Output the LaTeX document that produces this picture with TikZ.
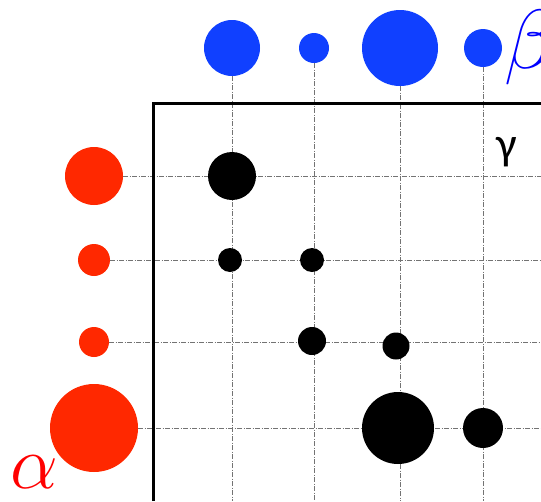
\documentclass[tikz,border=0pt]{standalone}
\usepackage{fix-cm}
\usepackage{fontspec}
\newfontfamily\gammafont{Carlito}
\definecolor{betablue}{RGB}{16,64,255}
\definecolor{alphared}{RGB}{255,40,0}

\begin{document}
\begin{tikzpicture}[x=1pt,y=-1pt,
  gridline/.style={black!55, line width=0.8pt, dash pattern=on 5pt off 1.5pt on 1pt off 1.5pt},
  bdot/.style={circle, fill=betablue, inner sep=0pt, minimum size=#1},
  rdot/.style={circle, fill=alphared, inner sep=0pt, minimum size=#1},
  kdot/.style={circle, fill=black, inner sep=0pt, minimum size=#1}]
\useasboundingbox (0,0) rectangle (541,501);
% line ends
\coordinate (v1) at (232,501);
\coordinate (v2) at (314,501);
\coordinate (v3) at (400,501);
\coordinate (v4) at (483,501);
\coordinate (h1) at (541,176);
\coordinate (h2) at (541,260);
\coordinate (h3) at (541,342);
\coordinate (h4) at (541,428);
% beta marginals
\node[bdot=56pt] (b1) at (232,48) {};
\node[bdot=30pt] (b2) at (314,48) {};
\node[bdot=76pt] (b3) at (400,48) {};
\node[bdot=38pt] (b4) at (483,48) {};
% alpha marginals
\node[rdot=58pt] (a1) at (94,176) {};
\node[rdot=32pt] (a2) at (94,260) {};
\node[rdot=30pt] (a3) at (94,342) {};
\node[rdot=88pt] (a4) at (94,428) {};
% grid
\draw[gridline] (b1) -- (v1);
\draw[gridline] (b2) -- (v2);
\draw[gridline] (b3) -- (v3);
\draw[gridline] (b4) -- (v4);
\draw[gridline] (a1) -- (h1);
\draw[gridline] (a2) -- (h2);
\draw[gridline] (a3) -- (h3);
\draw[gridline] (a4) -- (h4);
% frame
\draw[line width=3pt] (153,501) -- (153,103) -- (541,103);
% coupling gamma
\node[kdot=48pt] (g11) at (232,176) {};
\node[kdot=24pt] (g21) at (230,260) {};
\node[kdot=24pt] (g22) at (312,260) {};
\node[kdot=28pt] (g32) at (312,341) {};
\node[kdot=27pt] (g33) at (396,346) {};
\node[kdot=72pt] (g43) at (398,428) {};
\node[kdot=40pt] (g44) at (483,428) {};
% labels
\node[inner sep=0pt] (lgamma) at (507,152) {\fontsize{46}{46}\selectfont\gammafont γ};
\node[inner sep=0pt, anchor=west, text=blue] (lbeta) at (504,47) {\fontsize{84}{84}\selectfont$\beta$};
\node[inner sep=0pt, text=red] (lalpha) at (34,472) {\fontsize{76}{76}\selectfont$\alpha$};
\end{tikzpicture}
\end{document}
